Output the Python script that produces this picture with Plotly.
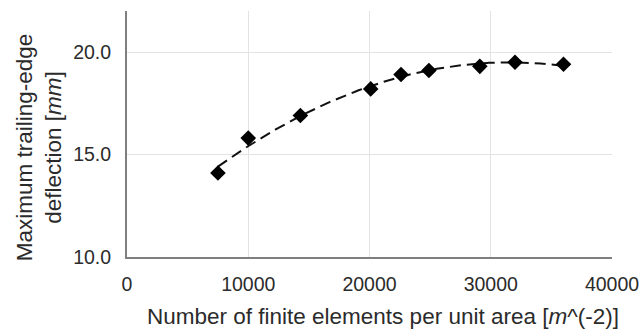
import numpy as np
import plotly.graph_objects as go

# Mesh-convergence study: element density vs. peak trailing-edge deflection
elements_per_area = [7500, 10000, 14300, 20100, 22600, 24900, 29100, 32000, 36000]
max_deflection_mm = [14.1, 15.8, 16.9, 18.2, 18.9, 19.1, 19.3, 19.5, 19.4]

x_ticks = [0, 10000, 20000, 30000, 40000]
y_ticks = [10.0, 15.0, 20.0]

# Second-order polynomial trend line through the points
coef = np.polyfit(elements_per_area, max_deflection_mm, 2)
trend_x = np.linspace(min(elements_per_area), max(elements_per_area), 200)
trend_y = np.polyval(coef, trend_x)

FONT = "Liberation Sans, Arial, sans-serif"
TEXT = "#2b2b2b"
TITLE_SIZE = 22.5

fig = go.Figure()
fig.add_trace(go.Scatter(
    x=trend_x, y=trend_y, mode="lines",
    line=dict(color="#111111", width=2, dash="11px,6px"),
    hoverinfo="skip", showlegend=False,
))
fig.add_trace(go.Scatter(
    x=elements_per_area, y=max_deflection_mm, mode="markers",
    marker=dict(symbol="diamond", size=12, color="#000000"),
    showlegend=False,
))

fig.update_layout(
    width=639, height=331,
    margin=dict(l=127, r=27, t=11, b=74),
    paper_bgcolor="white", plot_bgcolor="white",
    font=dict(family=FONT, size=19, color=TEXT),
    xaxis=dict(
        range=[0, 40000], tickvals=x_ticks, ticktext=[str(v) for v in x_ticks],
        showgrid=True, gridcolor="#e3e3e3", gridwidth=1,
        showline=True, linecolor="#7f7f7f", linewidth=2,
        zeroline=False, ticks="", ticklen=0, ticklabelstandoff=9,
        ticklabeloverflow="allow", automargin=False,
        tickfont=dict(size=19.5, color=TEXT),
    ),
    yaxis=dict(
        range=[10, 22], tickvals=y_ticks, ticktext=[f"{v:.1f}" for v in y_ticks],
        showgrid=True, gridcolor="#e3e3e3", gridwidth=1,
        showline=True, linecolor="#7f7f7f", linewidth=2,
        zeroline=False, ticks="", ticklen=0, ticklabelstandoff=10,
        automargin=False,
        tickfont=dict(size=19.5, color=TEXT),
    ),
    annotations=[
        dict(
            text="Number of finite elements per unit area [<i>m</i>^(-2)]",
            xref="paper", yref="paper", x=0.527, y=-0.242,
            xanchor="center", yanchor="middle",
            showarrow=False, font=dict(size=TITLE_SIZE, color=TEXT),
        ),
        dict(
            text="Maximum trailing-edge<br>deflection [<i>mm</i>]",
            xref="paper", yref="paper", x=-0.181, y=0.447,
            xanchor="center", yanchor="middle", textangle=-90,
            showarrow=False, font=dict(size=TITLE_SIZE, color=TEXT),
        ),
    ],
)

fig.write_html("out.html")
